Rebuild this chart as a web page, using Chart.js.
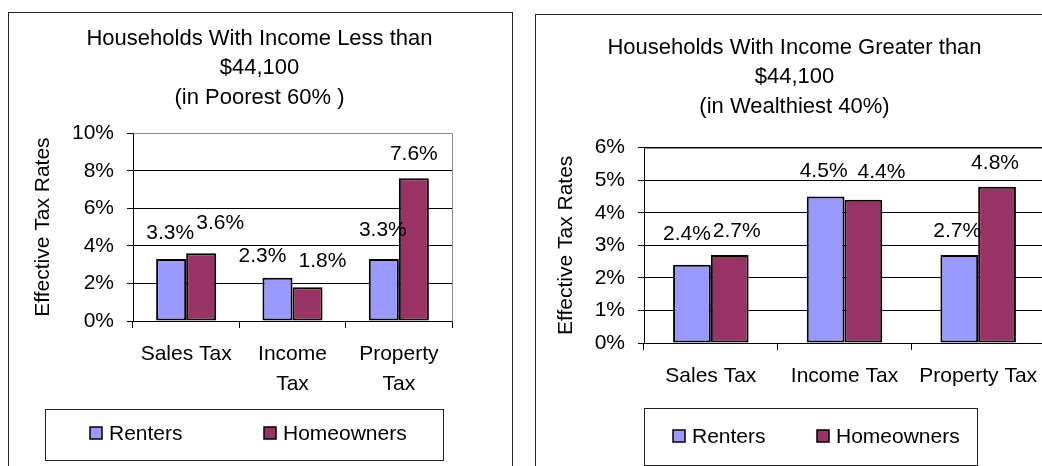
<!DOCTYPE html>
<html>
<head>
<meta charset="utf-8">
<script src="https://cdn.jsdelivr.net/npm/chart.js@4.4.1/dist/chart.umd.min.js"></script>
<style>
  html, body { margin: 0; padding: 0; background: #fff; width: 1042px; height: 466px; overflow: hidden; }
  .panel { position: absolute; border: 1px solid #222; background: #fff; }
  #panelLow { left: 8px; top: 12px; width: 503px; height: 470px; }
  #panelHigh { left: 535px; top: 14px; width: 520px; height: 470px; }
  canvas { position: absolute; left: 0; top: 0; }
</style>
</head>
<body>
<div class="panel" id="panelLow"><canvas id="lowChart" width="501" height="460"></canvas></div>
<div class="panel" id="panelHigh"><canvas id="highChart" width="517" height="460"></canvas></div>
<script>
// data (percent)
const seriesNames = ['Renters', 'Homeowners'];
const seriesColors = ['#9999FF', '#993366'];
const lowCategoryLabels = ['Sales Tax', ['Income', 'Tax'], ['Property', 'Tax']];
const highCategoryLabels = ['Sales Tax', 'Income Tax', 'Property Tax'];
const lowRenters = [3.3, 2.3, 3.3];
const lowHomeowners = [3.6, 1.8, 7.6];
const highRenters = [2.4, 4.5, 2.7];
const highHomeowners = [2.7, 4.4, 4.8];
const lowAxis = { max: 10, step: 2 };
const highAxis = { max: 6, step: 1 };
const lowTitle = ['Households With Income Less than', '$44,100', '(in Poorest 60% )'];
const highTitle = ['Households With Income Greater than', '$44,100', '(in Wealthiest 40%)'];
const yTitle = 'Effective Tax Rates';

const FONT = '"Liberation Sans", Arial, sans-serif';
Chart.defaults.font.family = FONT;
Chart.defaults.font.size = 21;
Chart.defaults.color = '#000';

// value labels above each bar
const barLabels = {
    id: 'barLabels',
    afterDatasetsDraw(chart, args, opts) {
        const ctx = chart.ctx;
        ctx.save();
        ctx.font = '21px ' + FONT;
        ctx.fillStyle = '#000';
        ctx.textAlign = 'center';
        ctx.textBaseline = 'middle';
        chart.data.datasets.forEach((ds, di) => {
            chart.getDatasetMeta(di).data.forEach((bar, i) => {
                const n = (opts.nudge && opts.nudge[di] && opts.nudge[di][i]) || [0, 0];
                ctx.fillText(ds.data[i].toFixed(1) + '%', bar.x + n[0], bar.y - opts.offset + n[1]);
            });
        });
        ctx.restore();
    }
};

// grey plot-area frame on top and right
const plotFrame = {
    id: 'plotFrame',
    beforeDatasetsDraw(chart) {
        const { ctx, chartArea: a } = chart;
        ctx.save();
        ctx.strokeStyle = '#8c8c8c';
        ctx.lineWidth = 1;
        ctx.beginPath();
        ctx.moveTo(Math.round(a.left) + 0.5, Math.round(a.top) + 0.5);
        ctx.lineTo(Math.round(a.right) + 0.5, Math.round(a.top) + 0.5);
        ctx.lineTo(Math.round(a.right) + 0.5, Math.round(a.bottom) + 0.5);
        ctx.stroke();
        ctx.restore();
    }
};

// boxed legend like the spreadsheet one
const boxLegend = {
    id: 'boxLegend',
    afterDraw(chart, args, o) {
        const ctx = chart.ctx;
        ctx.save();
        ctx.strokeStyle = '#222';
        ctx.lineWidth = 1;
        ctx.strokeRect(o.x + 0.5, o.y + 0.5, o.w, o.h);
        ctx.font = '21px ' + FONT;
        ctx.textAlign = 'left';
        ctx.textBaseline = 'middle';
        chart.data.datasets.forEach((ds, i) => {
            const x = o.items[i];
            ctx.fillStyle = ds.backgroundColor;
            ctx.fillRect(x, o.cy - 6, 12, 12);
            ctx.strokeStyle = '#000';
            ctx.lineWidth = 1.5;
            ctx.strokeRect(x, o.cy - 6, 12, 12);
            ctx.fillStyle = '#000';
            ctx.fillText(ds.label, x + 19, o.cy + 1);
        });
        ctx.restore();
    }
};

function makeChart(id, cfg) {
    return new Chart(document.getElementById(id), {
        type: 'bar',
        data: {
            labels: cfg.labels,
            datasets: [
                { label: seriesNames[0], data: cfg.renters, backgroundColor: seriesColors[0] },
                { label: seriesNames[1], data: cfg.homeowners, backgroundColor: seriesColors[1] }
            ].map(d => Object.assign(d, {
                borderColor: '#000', borderWidth: 2, borderSkipped: false,
                categoryPercentage: 0.565, barPercentage: 1.0
            }))
        },
        plugins: [plotFrame, barLabels, boxLegend],
        options: {
            responsive: false,
            animation: false,
            devicePixelRatio: 1,
            layout: { padding: { top: 0, left: 0, right: 0, bottom: 72 } },
            plugins: {
                legend: { display: false },
                tooltip: { enabled: false },
                title: {
                    display: true,
                    text: cfg.title,
                    color: '#000',
                    font: { size: 22, weight: 'normal', lineHeight: 1.34 },
                    padding: cfg.titlePad
                },
                barLabels: { offset: 26, nudge: cfg.nudge },
                boxLegend: cfg.legend
            },
            scales: {
                x: {
                    offset: true,
                    grid: { offset: true, drawOnChartArea: false, drawTicks: true, tickLength: 7, color: '#000' },
                    border: { display: true, color: '#000', width: 1 },
                    ticks: { maxRotation: 0, minRotation: 0, autoSkip: false, padding: 12, font: { size: 21, lineHeight: 1.4 } },
                    afterFit: s => { s.height = cfg.xHeight; }
                },
                y: {
                    min: 0,
                    max: cfg.axis.max,
                    ticks: { stepSize: cfg.axis.step, padding: 13, callback: v => v + '%', font: { size: 21 } },
                    grid: { color: '#000', tickLength: 6 },
                    border: { display: true, color: '#000', width: 1 },
                    title: { display: true, text: yTitle, font: { size: 21 }, padding: { top: cfg.yTitlePad, bottom: 0 } },
                    afterFit: s => { s.width = cfg.yWidth; }
                },
                spacer: {
                    type: 'linear',
                    position: 'right',
                    display: true,
                    grid: { display: false, drawTicks: false },
                    border: { display: false },
                    ticks: { display: false },
                    afterFit: s => { s.width = cfg.rightWidth; }
                }
            }
        }
    });
}

makeChart('lowChart', {
    labels: lowCategoryLabels,
    renters: lowRenters,
    homeowners: lowHomeowners,
    axis: lowAxis,
    title: lowTitle,
    titlePad: { top: 11, bottom: 20.7 },
    yTitlePad: 22,
    yWidth: 124,
    rightWidth: 58,
    xHeight: 80,
    nudge: [[[-1, 0], [-15, 4], [-1, -3]], [[19, -4], [15, 0], [0, 2]]],
    legend: { x: 36, y: 396, w: 398, h: 51, cy: 420, items: [81, 255] }
});

makeChart('highChart', {
    labels: highCategoryLabels,
    renters: highRenters,
    homeowners: highHomeowners,
    axis: highAxis,
    title: highTitle,
    titlePad: { top: 18, bottom: 26.2 },
    yTitlePad: 18,
    yWidth: 108,
    rightWidth: 8,
    xHeight: 60,
    nudge: [[[-5, -5], [-2, 1], [-2, 2]], [[7, 2], [18, -2], [-2, 2]]],
    legend: { x: 108, y: 393, w: 333, h: 57, cy: 421, items: [137, 281] }
});
</script>
</body>
</html>
